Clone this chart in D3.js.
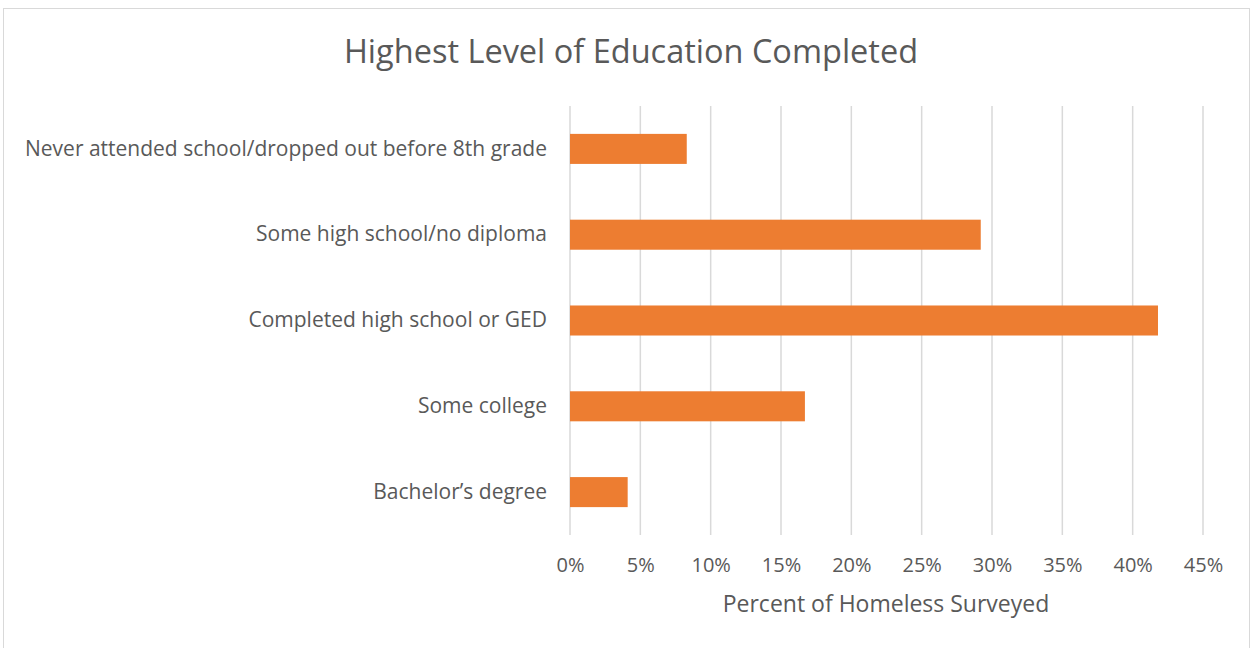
<!DOCTYPE html>
<html>
<head>
<meta charset="utf-8">
<script src="https://cdn.jsdelivr.net/npm/d3@7"></script>
<style>
  body { margin: 0; background: #fff; }
  text { font-family: "Open Sans", sans-serif; fill: #595959; }
</style>
</head>
<body>
<div class="canvas"></div>
<script>
// chart data
const categories = [
    'Never attended school/dropped out before 8th grade',
    'Some high school/no diploma',
    'Completed high school or GED',
    'Some college',
    'Bachelor’s degree'
];
const values = [8.3, 29.2, 41.8, 16.7, 4.1];
const ticks = [0, 5, 10, 15, 20, 25, 30, 35, 40, 45];

const dims = { width: 1253, height: 648 };
const plot = { left: 570, right: 1203, top: 106, bottom: 535 };

const svg = d3.select('.canvas')
    .append('svg')
    .attr('width', dims.width)
    .attr('height', dims.height);

// chart border
svg.append('rect')
    .attr('x', 3.5).attr('y', 8.5)
    .attr('width', 1246).attr('height', 660)
    .attr('fill', 'none')
    .attr('stroke', '#d9d9d9');

const x = d3.scaleLinear()
    .domain([0, 45])
    .range([plot.left, plot.right]);

const y = d3.scaleBand()
    .domain(categories)
    .range([plot.top, plot.bottom])
    .paddingInner(0.65)
    .paddingOuter(0.325);

// gridlines
svg.append('g')
    .selectAll('line')
    .data(ticks)
    .enter()
    .append('line')
    .attr('x1', d => x(d)).attr('x2', d => x(d))
    .attr('y1', plot.top).attr('y2', plot.bottom)
    .attr('stroke', '#d9d9d9')
    .attr('stroke-width', 1.5);

// bars
svg.append('g')
    .selectAll('rect')
    .data(values)
    .enter()
    .append('rect')
    .attr('x', x(0))
    .attr('y', (d, i) => y(categories[i]))
    .attr('width', d => x(d) - x(0))
    .attr('height', y.bandwidth())
    .attr('fill', '#ed7d31');

// x axis
const xAxis = d3.axisBottom(x)
    .tickValues(ticks)
    .tickSize(0)
    .tickPadding(0)
    .tickFormat(d => d + '%');

const xg = svg.append('g')
    .attr('transform', `translate(0, ${plot.bottom + 23})`)
    .call(xAxis);
xg.select('.domain').remove();
xg.selectAll('text')
    .attr('font-size', 20)
    .style('font-family', '"Open Sans", sans-serif')
    .attr('fill', '#595959');

// y axis
const yAxis = d3.axisLeft(y)
    .tickSize(0)
    .tickPadding(23);

const yg = svg.append('g')
    .attr('transform', `translate(${plot.left}, 0)`)
    .call(yAxis);
yg.select('.domain').remove();
yg.selectAll('text')
    .attr('font-size', 21)
    .style('font-family', '"Open Sans", sans-serif')
    .attr('fill', '#595959');

// title
svg.append('text')
    .attr('x', 631)
    .attr('y', 63)
    .attr('text-anchor', 'middle')
    .attr('font-size', 32.5)
    .text('Highest Level of Education Completed');

// axis title
svg.append('text')
    .attr('x', 886)
    .attr('y', 612)
    .attr('text-anchor', 'middle')
    .attr('font-size', 23)
    .text('Percent of Homeless Surveyed');
</script>
</body>
</html>
